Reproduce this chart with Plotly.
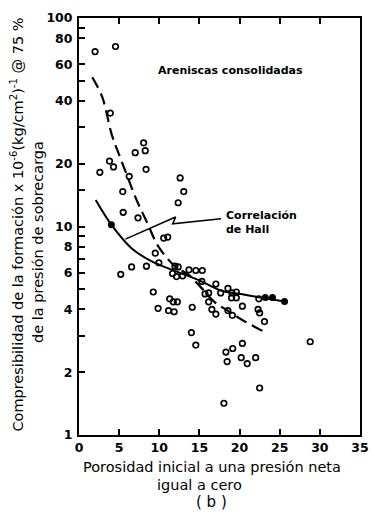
import plotly.graph_objects as go

# ---- data ----
porosity = [2.0, 4.55, 3.9, 2.6, 3.8, 4.3, 6.25, 7.0, 8.05, 8.25, 8.35, 12.6, 13.05, 12.35,
            5.45, 5.5, 7.35, 10.55, 11.05, 9.5, 9.95, 5.2, 6.55, 8.4, 11.95, 12.35, 11.65,
            12.15, 12.9, 13.7, 14.55, 15.35, 15.3, 9.25, 9.85, 11.3, 11.75, 12.25, 11.15,
            11.85, 14.1, 15.7, 16.15, 16.15, 16.55, 17.05, 17.05, 17.65, 18.55, 19.05, 19.6,
            19.0, 19.6, 18.55, 19.1, 20.35, 22.4, 22.3, 22.5, 23.1, 14.0, 14.55, 20.35, 28.8,
            18.3, 19.15, 18.45, 20.2, 20.95, 22.0, 22.5, 18.05]
compress = [69, 73, 35, 18.2, 20.6, 19.3, 17.4, 22.6, 25.2, 23.1, 18.8, 17.1, 14.7, 13.0,
            14.7, 11.7, 11.0, 8.8, 8.9, 7.45, 6.7, 5.9, 6.4, 6.45, 6.45, 6.4, 5.95,
            5.75, 5.8, 6.2, 6.15, 6.15, 5.45, 4.85, 4.05, 4.5, 4.35, 4.35, 3.95,
            3.9, 4.1, 4.75, 4.8, 4.35, 4.0, 3.8, 5.3, 4.8, 5.05, 4.8, 4.85,
            4.55, 4.55, 3.95, 3.75, 4.15, 4.5, 4.0, 3.85, 3.5, 3.1, 2.7, 2.75, 2.8,
            2.5, 2.6, 2.25, 2.35, 2.2, 2.35, 1.68, 1.42]

filled_x = [4.03, 23.2, 24.1, 25.6]
filled_y = [10.2, 4.57, 4.57, 4.37]

hall_x = [2.08, 4.03, 6.53, 8.94, 11.76, 14.96, 17.77, 20.18, 22.59, 25.6]
hall_y = [13.4, 10.2, 7.87, 6.84, 6.16, 5.52, 4.92, 4.74, 4.57, 4.37]

trend_x = [1.65, 2.89, 4.09, 5.09, 5.9, 7.1, 8.51, 9.9, 11.95, 13.75, 15.16, 16.97, 18.57, 20.18, 23.38]
trend_y = [52, 41.8, 27.5, 21.6, 17.9, 13.6, 10.4, 8.0, 6.45, 5.83, 5.12, 4.31, 3.94, 3.59, 3.08]

arrow_x = [17.69, 11.67, 12.03, 5.78]
arrow_y = [10.9, 10.3, 11.1, 8.7]

x_ticks = [0, 5, 10, 15, 20, 25, 30, 35]
y_ticks = [1, 2, 4, 6, 8, 10, 20, 40, 60, 80, 100]
y_ticktext = ["1", "2", "4", "6", "8", "10", "20", "40", "60", "80", "100"]
y_minor_ticks = [3, 5, 7, 9, 15, 30, 50, 90]

FONT = "DejaVu Sans"

fig = go.Figure()
fig.add_trace(go.Scatter(x=trend_x, y=trend_y, mode="lines", line_shape="spline",
                         line=dict(color="black", width=2.2, dash="12px,6px"), showlegend=False))
fig.add_trace(go.Scatter(x=hall_x, y=hall_y, mode="lines", line_shape="spline",
                         line=dict(color="black", width=2), showlegend=False))
fig.add_trace(go.Scatter(x=arrow_x, y=arrow_y, mode="lines",
                         line=dict(color="black", width=1.6), showlegend=False))
fig.add_trace(go.Scatter(x=porosity, y=compress, mode="markers",
                         marker=dict(symbol="circle-open", size=5.5, color="black",
                                     line=dict(width=1.7, color="black")), showlegend=False))
fig.add_trace(go.Scatter(x=filled_x, y=filled_y, mode="markers",
                         marker=dict(symbol="circle", size=7, color="black"), showlegend=False))

fig.add_annotation(x=9.6, y=1.748, xref="x", yref="y", text="Areniscas consolidadas",
                   showarrow=False, xanchor="left", yanchor="middle",
                   font=dict(family=FONT, size=11, color="black", weight="bold"))
fig.add_annotation(x=18.0, y=1.018, xref="x", yref="y", text="Correlación<br>de Hall",
                   showarrow=False, xanchor="left", yanchor="middle", align="left",
                   font=dict(family=FONT, size=11, color="black", weight="bold"))

fig.add_annotation(x=-0.22, y=0.505, xref="paper", yref="paper",
                   text="Compresibilidad de la formación x 10<sup>-6</sup>(kg/cm<sup>2</sup>)<sup>-1</sup> @ 75 %",
                   showarrow=False, textangle=-90, xanchor="center", yanchor="middle",
                   font=dict(family=FONT, size=14.5, color="black"))
fig.add_annotation(x=-0.148, y=0.464, xref="paper", yref="paper",
                   text="de la presión de sobrecarga",
                   showarrow=False, textangle=-90, xanchor="center", yanchor="middle",
                   font=dict(family=FONT, size=14.5, color="black"))
fig.add_annotation(x=0.475, y=-0.076, xref="paper", yref="paper",
                   text="Porosidad inicial a una presión neta",
                   showarrow=False, xanchor="center", yanchor="middle",
                   font=dict(family=FONT, size=14.5, color="black"))
fig.add_annotation(x=0.43, y=-0.121, xref="paper", yref="paper",
                   text="igual a cero",
                   showarrow=False, xanchor="center", yanchor="middle",
                   font=dict(family=FONT, size=14.5, color="black"))
fig.add_annotation(x=0.47, y=-0.161, xref="paper", yref="paper",
                   text="( b )", showarrow=False, xanchor="center", yanchor="middle",
                   font=dict(family=FONT, size=15, color="black"))

fig.update_xaxes(range=[0, 35], tickvals=x_ticks, ticks="inside", ticklen=6, tickwidth=1.5,
                 tickcolor="black", showline=True, linecolor="black", linewidth=2,
                 mirror="ticks", showgrid=False, zeroline=False,
                 tickfont=dict(family=FONT, size=12.5, color="black", weight="bold"))
fig.update_yaxes(type="log", range=[0, 2], tickvals=y_ticks, ticktext=y_ticktext,
                 ticks="inside", ticklen=6, tickwidth=1.5, tickcolor="black",
                 minor=dict(tickmode="array", tickvals=y_minor_ticks, ticks="inside",
                            ticklen=6, tickwidth=1.5, tickcolor="black", showgrid=False),
                 showline=True, linecolor="black", linewidth=2, mirror=True,
                 showgrid=False, zeroline=False, ticklabelstandoff=2,
                 tickfont=dict(family=FONT, size=12.5, color="black", weight="bold"))

fig.update_layout(width=379, height=518, margin=dict(l=79, r=10, t=13, b=83),
                  paper_bgcolor="white", plot_bgcolor="white")

fig.write_html("out.html")
